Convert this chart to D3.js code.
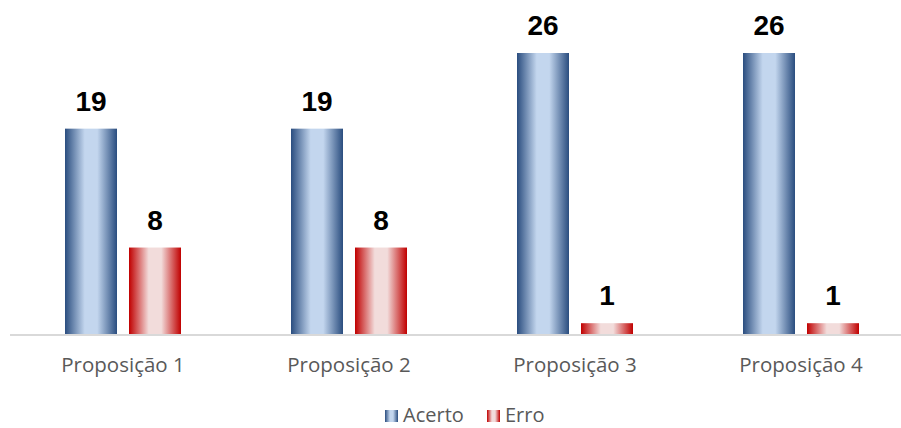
<!DOCTYPE html>
<html>
<head>
<meta charset="utf-8">
<script src="https://cdn.jsdelivr.net/npm/d3@7"></script>
<style>
  html, body { margin: 0; padding: 0; background: #fff; }
  svg { display: block; }
</style>
</head>
<body>
<svg id="chart" width="901" height="428"></svg>
<script>
// Results per proposition
const categories = ["Proposição 1", "Proposição 2", "Proposição 3", "Proposição 4"];
const seriesNames = ["Acerto", "Erro"];
const acerto = [19, 19, 26, 26];
const erro = [8, 8, 1, 1];

const W = 901, H = 428;
const svg = d3.select("#chart");
const baseY = 334;

const x = d3.scaleBand().domain(categories).range([10, 914]).paddingInner(0).paddingOuter(0);
const y = d3.scaleLinear().domain([0, 26]).range([baseY, 53]);

// Gradients: dark edges, light centre
const defs = svg.append("defs");
const grads = [
  { id: "gBlue", edge: "#2a4d7f", mid: "#c3d6ee" },
  { id: "gRed", edge: "#c00000", mid: "#f2dcdb" }
];
grads.forEach(g => {
  const lg = defs.append("linearGradient").attr("id", g.id)
    .attr("x1", "0%").attr("x2", "100%").attr("y1", "0%").attr("y2", "0%");
  lg.append("stop").attr("offset", "0%").attr("stop-color", g.edge);
  lg.append("stop").attr("offset", "38%").attr("stop-color", g.mid);
  lg.append("stop").attr("offset", "62%").attr("stop-color", g.mid);
  lg.append("stop").attr("offset", "100%").attr("stop-color", g.edge);
});

const series = [
  { name: seriesNames[0], values: acerto, fill: "url(#gBlue)", offset: -58 },
  { name: seriesNames[1], values: erro, fill: "url(#gRed)", offset: 6 }
];
const barW = 52;

// Baseline
svg.append("line")
  .attr("x1", 10).attr("x2", W)
  .attr("y1", baseY + 1).attr("y2", baseY + 1)
  .attr("stroke", "#d9d9d9").attr("stroke-width", 2);

series.forEach(s => {
  const g = svg.append("g");
  g.selectAll("rect").data(categories).join("rect")
    .attr("x", (c) => x(c) + x.bandwidth() / 2 + s.offset)
    .attr("y", (c, i) => y(s.values[i]))
    .attr("width", barW)
    .attr("height", (c, i) => baseY - y(s.values[i]))
    .attr("fill", s.fill);
  g.selectAll("text").data(categories).join("text")
    .attr("x", (c) => x(c) + x.bandwidth() / 2 + s.offset + barW / 2)
    .attr("y", (c, i) => y(s.values[i]) - 18)
    .attr("text-anchor", "middle")
    .attr("font-family", "'Liberation Sans', Arial, sans-serif")
    .attr("font-weight", "bold")
    .attr("font-size", 28)
    .attr("fill", "#000")
    .text((c, i) => s.values[i]);
});

// Category labels
svg.append("g").selectAll("text").data(categories).join("text")
  .attr("x", c => x(c) + x.bandwidth() / 2)
  .attr("y", 372)
  .attr("text-anchor", "middle")
  .attr("font-family", "'Open Sans', 'Noto Sans', sans-serif")
  .attr("font-size", 20.5)
  .attr("fill", "#595959")
  .text(c => c);

// Legend
const legend = svg.append("g");
const legendItems = [
  { name: seriesNames[0], fill: "url(#gBlue)", x: 385 },
  { name: seriesNames[1], fill: "url(#gRed)", x: 487 }
];
legendItems.forEach(it => {
  legend.append("rect").attr("x", it.x).attr("y", 410).attr("width", 13).attr("height", 12).attr("fill", it.fill);
  legend.append("text")
    .attr("x", it.x + 18).attr("y", 422)
    .attr("font-family", "'Open Sans', 'Noto Sans', sans-serif")
    .attr("font-size", 20)
    .attr("fill", "#595959")
    .text(it.name);
});
</script>
</body>
</html>
